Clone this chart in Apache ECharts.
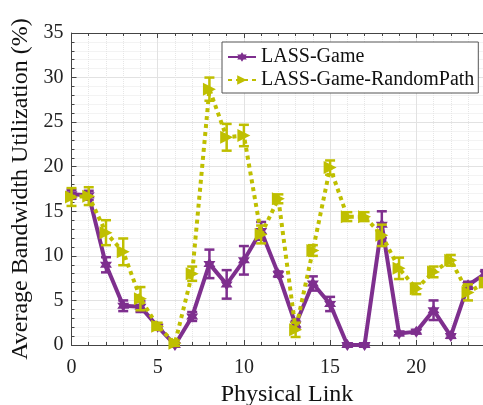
<!DOCTYPE html>
<html><head><meta charset="utf-8">
<script src="https://cdn.jsdelivr.net/npm/echarts@6/dist/echarts.min.js"></script>
<style>html,body{margin:0;padding:0;background:#fff}#c{width:483px;height:405px}</style>
</head><body><div id="c"></div>
<script>
const links = [0,1,2,3,4,5,6,7,8,9,10,11,12,13,14,15,16,17,18,19,20,21,22,23,24];
const gameValues = [16.9,16.8,9.0,4.4,4.3,2.05,0,3.2,9.1,6.8,9.5,12.8,7.95,2.3,6.9,4.6,0,0,13.5,1.3,1.5,3.9,1.0,6.7,8.0];
const gameErrors = [0.5,0.5,0.85,0.6,0.6,0.2,0.1,0.5,1.6,1.6,1.6,1.0,0.3,0.4,0.8,0.8,0.1,0.1,1.5,0.2,0.2,1.1,0.2,0.4,0.4];
const randomValues = [16.6,16.7,12.6,10.45,5.2,2.1,0.2,8.0,28.7,23.3,23.5,12.4,16.4,1.7,10.6,19.9,14.4,14.4,12.3,8.6,6.3,8.2,9.5,5.9,7.0];
const randomErrors = [1.0,1.0,1.4,1.5,1.3,0.4,0.3,0.8,1.3,1.5,1.2,1.0,0.5,0.8,0.6,0.8,0.5,0.5,1.2,1.2,0.6,0.6,0.6,0.9,0.5];
const xTicks = [0,5,10,15,20];
const yTicks = [0,5,10,15,20,25,30,35];
const names = ['LASS-Game','LASS-Game-RandomPath'];

const PURPLE = '#7E2F8E', YELLOW = '#BFBF00';
const FONT = 'Liberation Serif';
const hexagram = 'path://M0,-10 L8.66,5 L-8.66,5 Z M0,10 L-8.66,-5 L8.66,-5 Z';
const rightTri = 'path://M-7,-8 L8,0 L-7,8 Z';

function errSeries(name, vals, errs, color){
  return {
    type:'custom', name:name, z:3,
    data: links.map((x,i)=>[x, vals[i], errs[i]]),
    renderItem: function(params, api){
      const x = api.value(0), y = api.value(1), e = api.value(2);
      const lo = api.coord([x, y-e]), hi = api.coord([x, y+e]);
      const w = 5;
      const st = {stroke:color, lineWidth:2.5};
      return {type:'group', children:[
        {type:'line', shape:{x1:lo[0],y1:lo[1],x2:hi[0],y2:hi[1]}, style:st},
        {type:'line', shape:{x1:lo[0]-w,y1:lo[1],x2:lo[0]+w,y2:lo[1]}, style:st},
        {type:'line', shape:{x1:hi[0]-w,y1:hi[1],x2:hi[0]+w,y2:hi[1]}, style:st}
      ]};
    }
  };
}

const axisCommon = {
  axisLine:{show:true, onZero:false, lineStyle:{color:'#444', width:1}},
  axisTick:{show:true, inside:true, length:5, lineStyle:{color:'#444'}},
  minorTick:{show:true, splitNumber:5, length:3, lineStyle:{color:'#444'}}
};

const option = {
  backgroundColor:'#fff',
  animation:false,
  grid:{left:71.5, width:431, top:33, bottom:60, containLabel:false, outerBoundsMode:'none'},
  legend:{
    data:names, orient:'vertical', left:222, top:42,
    itemWidth:28, itemHeight:12, itemGap:3,
    padding:[5,4,3,5],
    borderColor:'#555', borderWidth:1, backgroundColor:'#fff',
    textStyle:{fontFamily:FONT, fontSize:20, color:'#111'}
  },
  xAxis:[
    Object.assign({type:'value', min:0, max:25, interval:5, position:'bottom',
      name:'Physical Link', nameLocation:'middle', nameGap:33,
      nameTextStyle:{fontFamily:FONT, fontSize:24, color:'#111'},
      axisLabel:{fontFamily:FONT, fontSize:20, color:'#222', margin:13, showMaxLabel:false,
        formatter:v=>xTicks.includes(v)?String(v):''},
      splitLine:{show:true, lineStyle:{color:'#e2e2e2', width:1}},
      minorSplitLine:{show:true, lineStyle:{color:'#e6e6e6', width:1, type:'dotted'}}
    }, axisCommon),
    Object.assign({type:'value', min:0, max:25, interval:5, position:'top',
      axisLabel:{show:false}, splitLine:{show:false}}, axisCommon)
  ],
  yAxis:[
    Object.assign({type:'value', min:0, max:35, interval:5, position:'left',
      name:'Average Bandwidth Utilization (%)', nameLocation:'middle', nameGap:37,
      nameTextStyle:{fontFamily:FONT, fontSize:24, color:'#111'},
      axisLabel:{fontFamily:FONT, fontSize:20, color:'#222', margin:8,
        formatter:v=>yTicks.includes(v)?String(v):''},
      splitLine:{show:true, lineStyle:{color:'#e2e2e2', width:1}},
      minorSplitLine:{show:true, lineStyle:{color:'#e6e6e6', width:1, type:'dotted'}}
    }, axisCommon),
    Object.assign({type:'value', min:0, max:35, interval:5, position:'right',
      axisLabel:{show:false}, splitLine:{show:false}}, axisCommon)
  ],
  series:[
    {type:'line', name:names[0], z:2, data:links.map((x,i)=>[x,gameValues[i]]),
      lineStyle:{color:PURPLE, width:4}, itemStyle:{color:PURPLE},
      symbol:hexagram, symbolSize:12, showAllSymbol:true},
    errSeries('gameErr', gameValues, gameErrors, PURPLE),
    {type:'line', name:names[1], z:4, data:links.map((x,i)=>[x,randomValues[i]]),
      lineStyle:{color:YELLOW, width:4, type:[4,4]}, itemStyle:{color:YELLOW},
      symbol:rightTri, symbolSize:13, showAllSymbol:true},
    Object.assign(errSeries('randomErr', randomValues, randomErrors, YELLOW), {z:5})
  ]
};
echarts.init(document.getElementById('c')).setOption(option);
</script></body></html>
